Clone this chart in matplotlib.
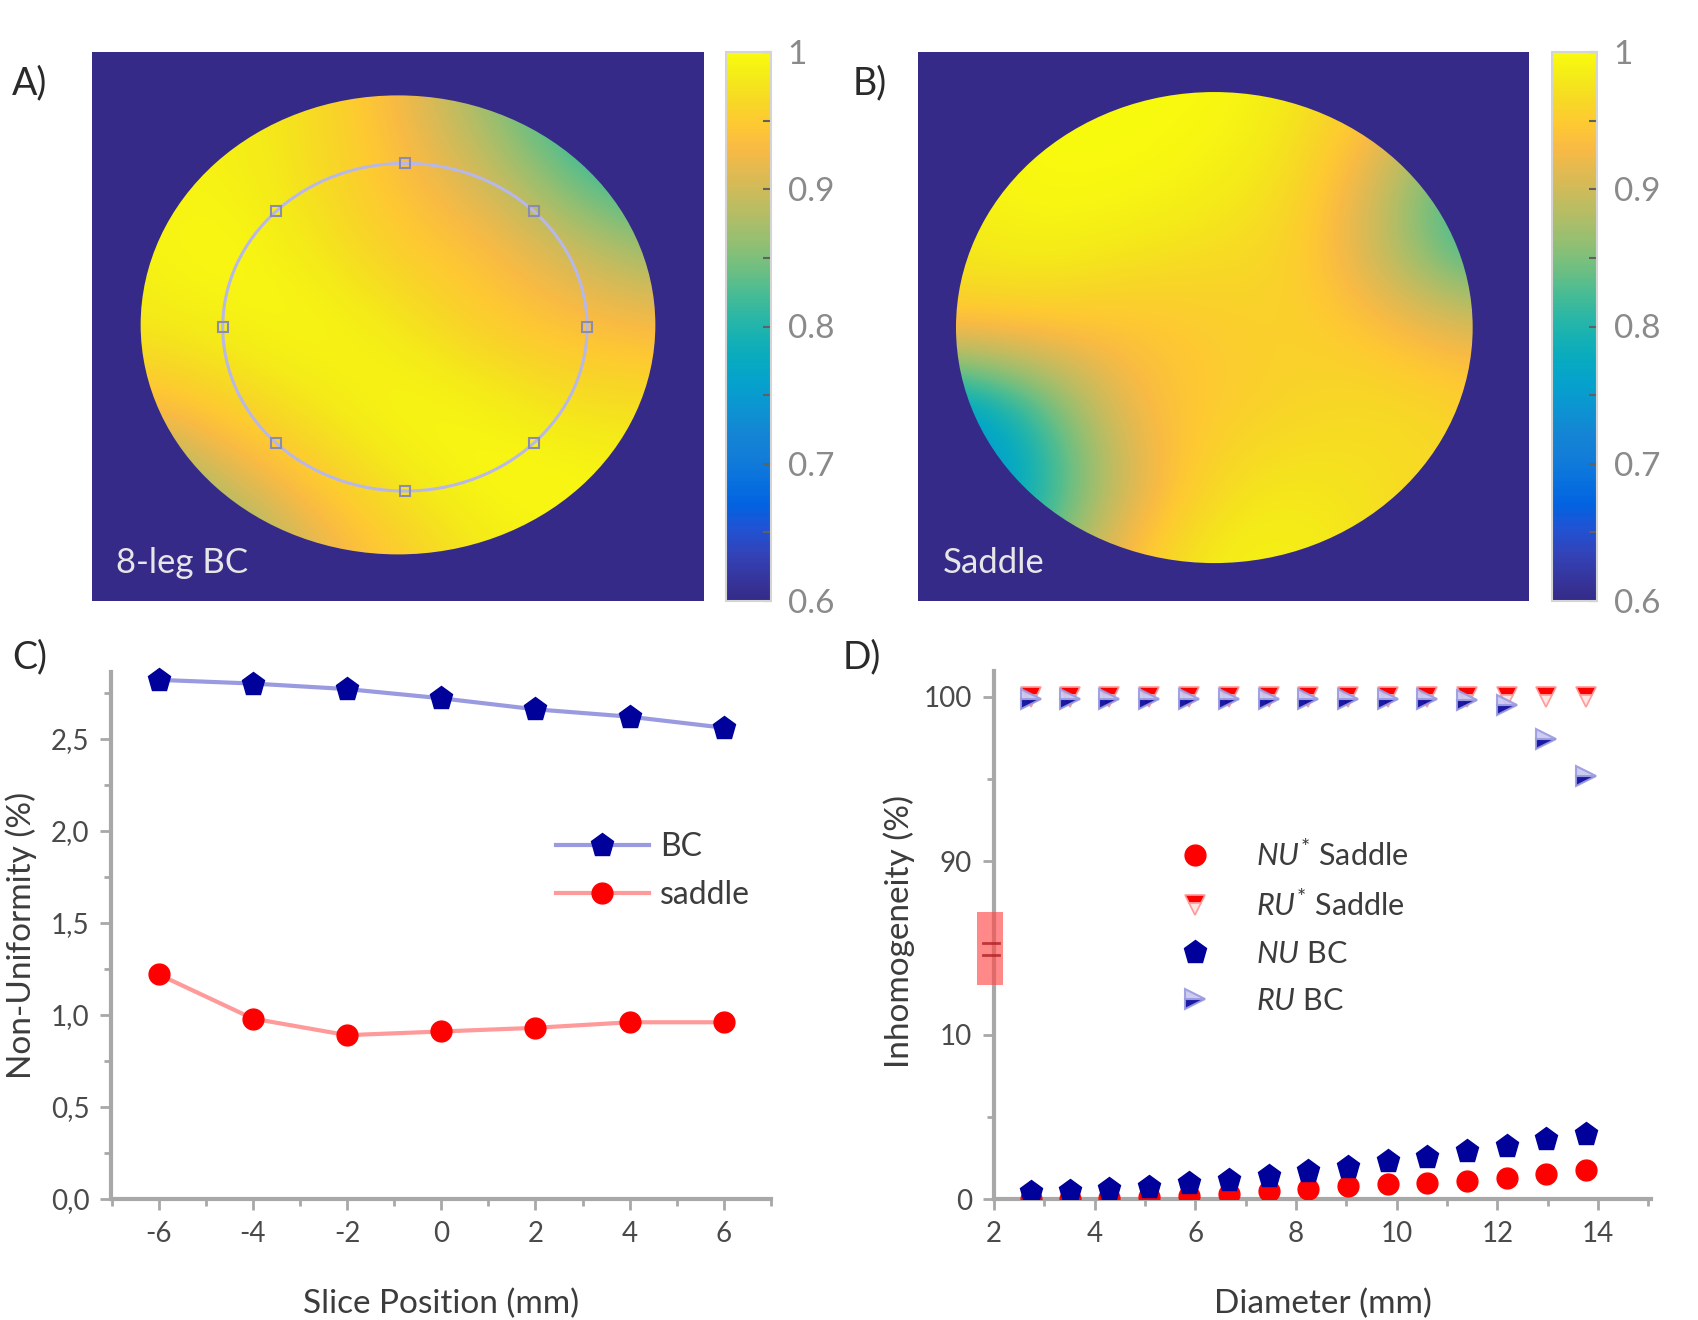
import numpy as np
import matplotlib
matplotlib.use('Agg')
import matplotlib.pyplot as plt
from matplotlib.colors import LinearSegmentedColormap, Normalize
from matplotlib.patches import Circle, Ellipse, Rectangle
from matplotlib.ticker import MultipleLocator, FixedLocator, FuncFormatter
from matplotlib.lines import Line2D

plt.rcParams['font.family'] = ['Lato', 'DejaVu Sans']
plt.rcParams['mathtext.fontset'] = 'custom'
plt.rcParams['mathtext.it'] = 'Lato:italic'
plt.rcParams['mathtext.rm'] = 'Lato'

# ---------------- data ----------------
# coarse field maps (rows top -> bottom, cols left -> right), normalized B1
map_a = [
    [0.98, 0.99, 0.97, 0.93, 0.86, 0.80, 0.78],
    [0.99, 0.99, 0.97, 0.94, 0.90, 0.83, 0.79],
    [0.99, 1.00, 0.98, 0.95, 0.94, 0.90, 0.86],
    [0.98, 0.99, 1.00, 0.98, 0.95, 0.94, 0.93],
    [0.94, 0.96, 0.98, 1.00, 0.99, 0.97, 0.97],
    [0.84, 0.91, 0.95, 0.98, 1.00, 1.00, 0.99],
    [0.79, 0.83, 0.91, 0.95, 0.98, 0.99, 0.99],
]
map_b = [
    [0.99, 1.00, 1.00, 1.00, 0.98, 0.95, 0.88],
    [0.99, 1.00, 1.00, 0.99, 0.97, 0.90, 0.80],
    [0.98, 0.99, 0.98, 0.97, 0.96, 0.88, 0.80],
    [0.95, 0.95, 0.94, 0.95, 0.96, 0.94, 0.91],
    [0.74, 0.82, 0.93, 0.95, 0.96, 0.97, 0.96],
    [0.70, 0.79, 0.90, 0.97, 0.98, 0.97, 0.96],
    [0.74, 0.84, 0.95, 0.99, 0.99, 0.97, 0.96],
]
cbar_ticks = [0.6, 0.7, 0.8, 0.9, 1.0]
cbar_labels = ['0.6', '0.7', '0.8', '0.9', '1']

slice_pos = [-6, -4, -2, 0, 2, 4, 6]
nu_bc_slice = [2.82, 2.80, 2.77, 2.72, 2.66, 2.62, 2.56]
nu_saddle_slice = [1.22, 0.98, 0.89, 0.91, 0.93, 0.96, 0.96]

diameter = [2.73, 3.51, 4.28, 5.08, 5.87, 6.67, 7.46, 8.24, 9.03, 9.83,
            10.6, 11.4, 12.19, 12.97, 13.76]
nu_saddle = [0.0, 0.0, 0.05, 0.1, 0.2, 0.3, 0.5, 0.6, 0.8, 0.9,
             1.0, 1.1, 1.3, 1.55, 1.75]
ru_saddle = [100.0, 100.0, 100.0, 100.0, 100.0, 100.0, 100.0, 100.0, 100.0, 100.0,
             100.0, 100.0, 100.0, 100.0, 100.0]
nu_bc = [0.4, 0.5, 0.6, 0.7, 1.0, 1.15, 1.42, 1.68, 1.92, 2.33,
         2.57, 2.94, 3.24, 3.65, 3.95]
ru_bc = [99.85, 99.85, 99.85, 99.85, 99.85, 99.85, 99.85, 99.85, 99.85, 99.85,
         99.85, 99.8, 99.5, 97.4, 95.2]

# ---------------- colormap (parula-like) ----------------
parula_pts = [
    (0.2081, 0.1663, 0.5292), (0.2123, 0.2138, 0.6270), (0.1959, 0.2645, 0.7279),
    (0.1253, 0.3242, 0.8303), (0.0117, 0.3875, 0.8820), (0.0329, 0.4430, 0.8720),
    (0.0723, 0.4887, 0.8467), (0.0793, 0.5200, 0.8312), (0.0488, 0.5772, 0.8228),
    (0.0239, 0.6287, 0.8038), (0.0267, 0.6642, 0.7607), (0.0843, 0.6928, 0.7062),
    (0.1801, 0.7177, 0.6424), (0.3022, 0.7376, 0.5712), (0.4420, 0.7481, 0.5033),
    (0.5709, 0.7485, 0.4494), (0.6834, 0.7435, 0.4044), (0.7858, 0.7356, 0.3633),
    (0.8824, 0.7274, 0.3217), (0.9739, 0.7314, 0.2666), (0.9955, 0.7861, 0.1967),
    (0.9697, 0.8481, 0.1475), (0.9598, 0.9218, 0.0948), (0.9763, 0.9831, 0.0538),
]
parula = LinearSegmentedColormap.from_list('parula', parula_pts, N=256)
norm = Normalize(vmin=0.6, vmax=1.0)

W, H = 1698, 1320
fig = plt.figure(figsize=(W / 100, H / 100), dpi=100)
fig.patch.set_facecolor('white')

TXT = '#3c3c3c'
TICKTXT = '#4a4a4a'
SPINE = '#a8a8a8'


def fx(px):
    return px / W


def fy(py):
    return 1 - py / H


def heatmap(rect, cbar_rect, grid, xlim, ylim, label):
    ax = fig.add_axes(rect)
    ax.set_facecolor(parula(0.0))
    e = 7 / 6
    im = ax.imshow(np.array(grid), cmap=parula, norm=norm, extent=(-e, e, -e, e),
                   interpolation='bicubic', aspect='auto', origin='upper')
    clip = Circle((0, 0), 1.0, transform=ax.transData)
    im.set_clip_path(clip)
    ax.set_xlim(*xlim)
    ax.set_ylim(*ylim)
    ax.set_xticks([])
    ax.set_yticks([])
    for s in ax.spines.values():
        s.set_visible(False)
    ax.text(0.04, 0.07, label, transform=ax.transAxes, color='#e6e6e6',
            fontsize=25, va='center', ha='left')
    cax = fig.add_axes(cbar_rect)
    cb = fig.colorbar(im, cax=cax)
    cb.set_ticks(cbar_ticks)
    cb.set_ticklabels(cbar_labels)
    cax.yaxis.set_minor_locator(MultipleLocator(0.05))
    cax.tick_params(which='both', direction='in', length=6, width=1.5,
                    color='#606060', labelsize=24, labelcolor='#8a8a8a', pad=12)
    cb.outline.set_edgecolor('#d4d4d4')
    cb.outline.set_linewidth(1.5)
    return ax


# Panel A
axA = heatmap([fx(92), fy(601), fx(612), 549 / H],
              [fx(726), fy(601), fx(45), 549 / H],
              map_a, (-1.189, 1.189), (-1.203, 1.189), '8-leg BC')
ell_cx, ell_cy, ell_rx, ell_ry = 0.027, -0.01, 0.708, 0.714
axA.add_patch(Ellipse((ell_cx, ell_cy), 2 * ell_rx, 2 * ell_ry, fill=False,
                      edgecolor='#b8b8e8', lw=2.2))
ang = np.deg2rad(np.arange(0, 360, 45))
axA.plot(ell_cx + ell_rx * np.cos(ang), ell_cy + ell_ry * np.sin(ang), 's',
         ms=7, mfc='none', mec='#8c8cb0', mew=1.5)

# Panel B
axB = heatmap([fx(918), fy(601), fx(611), 549 / H],
              [fx(1552), fy(601), fx(45), 549 / H],
              map_b, (-1.147, 1.218), (-1.161, 1.170), 'Saddle')


def style_axis(ax, bottom=True):
    for side in ['top', 'right']:
        ax.spines[side].set_visible(False)
    ax.spines['left'].set_color(SPINE)
    ax.spines['left'].set_linewidth(3)
    ax.spines['bottom'].set_color(SPINE)
    ax.spines['bottom'].set_linewidth(3)
    if not bottom:
        ax.spines['bottom'].set_visible(False)
    ax.tick_params(which='major', direction='out', length=8, width=2,
                   color=SPINE, labelsize=20, labelcolor=TICKTXT, pad=8)
    ax.tick_params(which='minor', direction='out', length=5, width=2,
                   color=SPINE)


# Panel C
axC = fig.add_axes([fx(111.5), fy(1199), fx(659.5), 526.5 / H])
style_axis(axC)
axC.plot(slice_pos, nu_bc_slice, '-p', color='#9a9ae0', lw=3, ms=17,
         mfc='#00009a', mec='#00009a', label='BC', clip_on=False, zorder=3)
axC.plot(slice_pos, nu_saddle_slice, '-o', color='#ff9a9a', lw=3, ms=15,
         mfc='#ff0000', mec='#ff0000', label='saddle', clip_on=False, zorder=3)
axC.set_xlim(-7, 7)
axC.set_ylim(0, 2.86)
axC.xaxis.set_major_locator(MultipleLocator(2))
axC.xaxis.set_minor_locator(MultipleLocator(1))
axC.yaxis.set_major_locator(FixedLocator([0, 0.5, 1.0, 1.5, 2.0, 2.5]))
axC.yaxis.set_minor_locator(FixedLocator([0.25, 0.75, 1.25, 1.75, 2.25, 2.75]))
axC.yaxis.set_major_formatter(FuncFormatter(lambda v, p: f'{v:.1f}'.replace('.', ',')))
axC.xaxis.set_major_formatter(FuncFormatter(lambda v, p: f'{int(round(v))}'))
axC.set_xlabel('Slice Position (mm)', fontsize=24, color=TXT, labelpad=30)
axC.set_ylabel('Non-Uniformity (%)', fontsize=24, color=TXT, labelpad=10)
legC = fig.legend(handles=axC.get_lines(), loc='center left',
                  bbox_to_anchor=(fx(556), fy(871)), frameon=False, fontsize=23,
                  handlelength=2.9, handletextpad=0.35, labelspacing=0.55,
                  borderpad=0, borderaxespad=0)
for t in legC.get_texts():
    t.set_color(TXT)

# Panel D (broken y axis)
axDl = fig.add_axes([fx(994), fy(1199), fx(657), 251.5 / H])
axDh = fig.add_axes([fx(994), fy(947.5), fx(657), 276.5 / H], sharex=axDl)
style_axis(axDl)
style_axis(axDh, bottom=False)
axDh.tick_params(axis='x', which='both', bottom=False, labelbottom=False)

handles = []
for ax in (axDl, axDh):
    h1, = ax.plot(diameter, nu_saddle, 'o', ms=15, mfc='#ff0000', mec='#ff0000',
                  label=r'$\mathit{NU}^{*}$ Saddle', zorder=3)
    h2, = ax.plot(diameter, ru_saddle, 'v', ms=15, mfc='#ff0000', mec='#ff9a9a',
                  mfcalt='#ffe4e4', fillstyle='top', mew=1.2,
                  label=r'$\mathit{RU}^{*}$ Saddle', zorder=3)
    h3, = ax.plot(diameter, nu_bc, 'p', ms=17, mfc='#00009a', mec='#00009a',
                  label=r'$\mathit{NU}$ BC', zorder=4)
    h4, = ax.plot(diameter, ru_bc, '>', ms=15, mfc='#00009a', mec='#9a9ae0',
                  mfcalt='#c8c8f0', fillstyle='bottom', mew=1.5, alpha=0.9,
                  label=r'$\mathit{RU}$ BC', zorder=4)
    handles = [h1, h2, h3, h4]

axDl.set_xlim(2, 15.05)
axDl.set_ylim(0, 15.3)
axDh.set_ylim(84.75, 101.55)
axDl.xaxis.set_major_locator(MultipleLocator(2))
axDl.xaxis.set_minor_locator(MultipleLocator(1))
axDl.xaxis.set_major_formatter(FuncFormatter(lambda v, p: f'{int(round(v))}'))
axDl.yaxis.set_major_locator(FixedLocator([0, 10]))
axDl.yaxis.set_minor_locator(FixedLocator([5]))
axDh.yaxis.set_major_locator(FixedLocator([90, 100]))
axDh.yaxis.set_minor_locator(FixedLocator([95]))
axDl.set_xlabel('Diameter (mm)', fontsize=24, color=TXT, labelpad=30)
fig.text(fx(899), fy(931), 'Inhomogeneity (%)', rotation=90, fontsize=24,
         color=TXT, ha='center', va='center')

legD = fig.legend(handles=handles, loc='center left',
                  bbox_to_anchor=(fx(1180), fy(927)), frameon=False, fontsize=22,
                  handlelength=1.0, handletextpad=1.5, labelspacing=0.62,
                  borderpad=0, borderaxespad=0, numpoints=1)
for t in legD.get_texts():
    t.set_color(TXT)

# axis-break marker
fig.patches.append(Rectangle((fx(977), fy(985)), fx(26), 73 / H,
                             transform=fig.transFigure, facecolor='#ff4a4a',
                             alpha=0.65, edgecolor='none', zorder=5))
for yy in (943, 955):
    fig.lines.append(Line2D([fx(983), fx(999)], [fy(yy), fy(yy)],
                            transform=fig.transFigure, color='#b02020', lw=2,
                            alpha=0.8, zorder=6))

# panel letters
for lab, x, y in [('A)', 12, 83), ('B)', 853, 83), ('C)', 12, 657), ('D)', 843, 657)]:
    fig.text(fx(x), fy(y), lab, fontsize=27, color='#2a2a2a', ha='left', va='center')

fig.savefig('out.png', dpi=100)
